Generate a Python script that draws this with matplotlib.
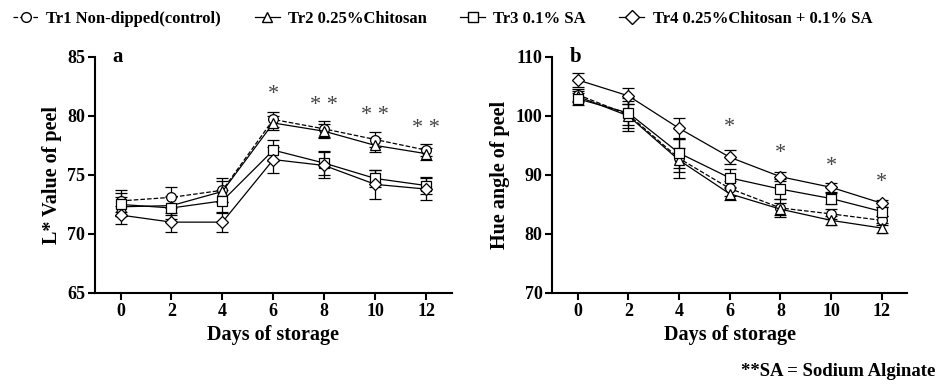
import numpy as np
import matplotlib
matplotlib.use("Agg")
import matplotlib.pyplot as plt
from matplotlib.lines import Line2D

plt.rcParams['font.family'] = ['Liberation Serif', 'DejaVu Serif']
plt.rcParams['font.weight'] = 'bold'

days = [0, 2, 4, 6, 8, 10, 12]
labels = ["Tr1 Non-dipped(control)", "Tr2 0.25%Chitosan", "Tr3 0.1% SA",
          "Tr4 0.25%Chitosan + 0.1% SA"]
markers = ["o", "^", "s", "D"]
styles = ["--", "-", "-", "-"]

# L* value of peel
L_tr1 = [72.8, 73.1, 73.7, 79.7, 78.9, 78.0, 77.1]
L_tr2 = [72.3, 72.4, 73.6, 79.4, 78.7, 77.5, 76.8]
L_tr3 = [72.5, 72.2, 72.8, 77.1, 76.0, 74.7, 74.1]
L_tr4 = [71.6, 71.0, 71.0, 76.3, 75.8, 74.2, 73.8]
L_err1 = [0.9, 0.9, 1.0, 0.6, 0.7, 0.6, 0.5]
L_err2 = [0.8, 0.8, 0.9, 0.6, 0.6, 0.6, 0.5]
L_err3 = [1.0, 0.9, 0.9, 0.9, 1.0, 0.7, 0.7]
L_err4 = [0.8, 0.8, 0.8, 1.1, 1.1, 1.2, 0.9]
L_star = ["", "", "", "*", "**", "**", "**"]
L_star_y = [0, 0, 0, 81.8, 80.9, 80.0, 78.9]

# Hue angle of peel
H_tr1 = [103.6, 100.2, 92.8, 87.7, 84.4, 83.4, 82.3]
H_tr2 = [103.3, 100.0, 92.5, 86.8, 84.2, 82.3, 81.0]
H_tr3 = [102.9, 100.5, 93.7, 89.5, 87.6, 86.0, 83.8]
H_tr4 = [106.1, 103.4, 97.9, 93.0, 89.7, 87.9, 85.2]
H_err1 = [1.0, 2.8, 3.3, 1.2, 1.5, 0.8, 0.8]
H_err2 = [1.0, 2.0, 2.0, 1.0, 1.0, 0.8, 0.8]
H_err3 = [1.0, 2.0, 2.5, 1.5, 1.7, 1.0, 0.8]
H_err4 = [1.2, 1.3, 1.8, 1.2, 0.8, 0.8, 0.6]
H_star = ["", "", "", "*", "*", "*", "*"]
H_star_y = [0, 0, 0, 98.0, 93.7, 91.5, 88.8]

fig = plt.figure(figsize=(9.41, 3.87), dpi=100)
ax1 = fig.add_axes([0.101, 0.243, 0.379, 0.61])
ax2 = fig.add_axes([0.587, 0.243, 0.377, 0.61])


def panel(ax, series, errs, stars, star_y, ylim, yticks, ylabel, letter):
    for vals, err, m, ls in zip(series, errs, markers, styles):
        ax.errorbar(days, vals, yerr=err, color='black', ls=ls, lw=0.9,
                    marker=m, ms=7 if m != "D" else 6, mfc='white', mec='black',
                    mew=0.9, capsize=4, elinewidth=0.9, capthick=0.9)
    for d, s, y in zip(days, stars, star_y):
        if s:
            ax.text(d, y, s.replace("**", "* *"), ha='center', va='center',
                    fontsize=16, color='#444444', fontweight='normal')
    ax.set_xlim(-1, 13)
    ax.set_ylim(*ylim)
    ax.set_xticks(days)
    ax.set_yticks(yticks)
    ax.spines['top'].set_visible(False)
    ax.spines['right'].set_visible(False)
    ax.spines['left'].set_linewidth(1.5)
    ax.spines['bottom'].set_linewidth(1.5)
    ax.tick_params(width=1.5, length=5, labelsize=13, pad=2)
    for t in ax.get_xticklabels() + ax.get_yticklabels():
        t.set_fontweight('bold')
    ax.set_xlabel("Days of storage", fontsize=14.5, fontweight='bold', labelpad=4)
    ax.set_ylabel(ylabel, fontsize=14.5, fontweight='bold', labelpad=4)
    ax.text(0.05, 1.0, letter, transform=ax.transAxes, fontsize=15,
            fontweight='bold', va='center')


panel(ax1, [L_tr1, L_tr2, L_tr3, L_tr4], [L_err1, L_err2, L_err3, L_err4],
      L_star, L_star_y, (65, 85), [65, 70, 75, 80, 85], "L* Value of peel", "a")
panel(ax2, [H_tr1, H_tr2, H_tr3, H_tr4], [H_err1, H_err2, H_err3, H_err4],
      H_star, H_star_y, (70, 110), [70, 80, 90, 100, 110], "Hue angle of peel", "b")

handles = [Line2D([], [], color='black', ls=ls, lw=0.9, marker=m, ms=7,
                  mfc='white', mec='black') for m, ls in zip(markers, styles)]
fig.legend(handles, labels, loc='upper left', bbox_to_anchor=(-0.002, 1.01),
           ncol=4, frameon=False, handlelength=1.5,
           columnspacing=2.0, handletextpad=0.5,
           prop={'weight': 'bold', 'size': 12})

fig.text(0.994, 0.04, "**SA = Sodium Alginate", ha='right', va='center',
         fontsize=13.5, fontweight='bold')

fig.savefig("out.png", dpi=100)
